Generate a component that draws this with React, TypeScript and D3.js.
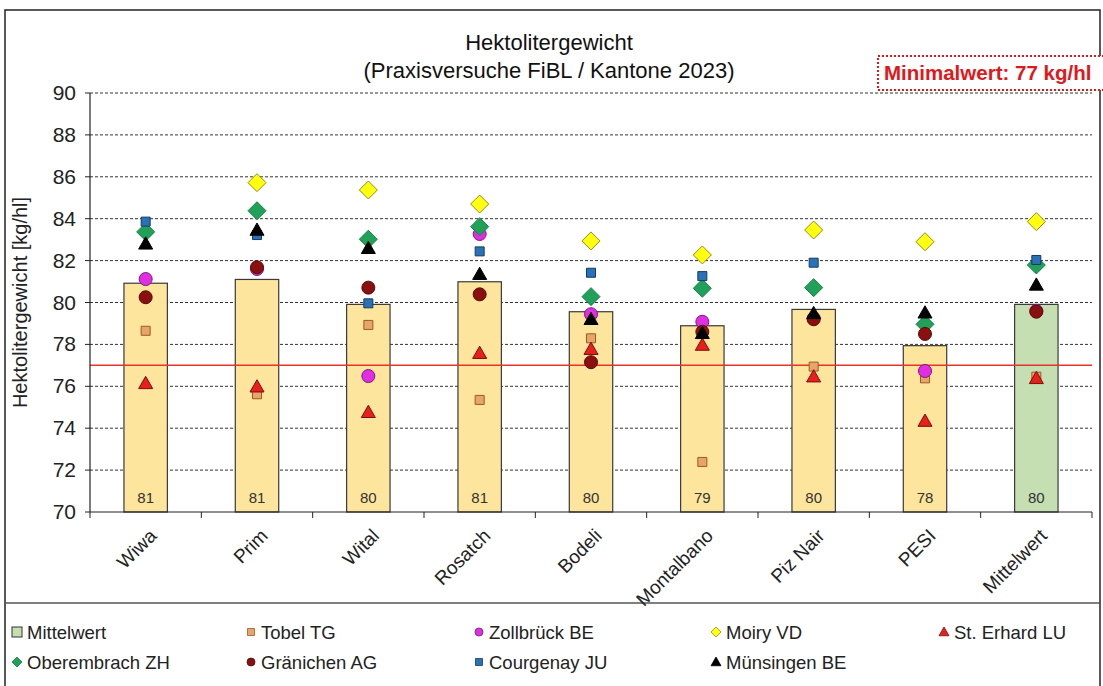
import React from 'react';
import * as d3 from 'd3';

const W = 1103;
const H = 686;

const categories = ['Wiwa', 'Prim', 'Wital', 'Rosatch', 'Bodeli', 'Montalbano', 'Piz Nair', 'PESI', 'Mittelwert'];

// bar = Mittelwert per Sorte
const mittelwert = [80.92, 81.1, 79.91, 80.99, 79.56, 78.89, 79.67, 77.94, 79.91];
const tobelTG = [78.65, 75.62, 78.93, 75.35, 78.29, 72.39, 76.94, 76.38, 76.46];
const zollbrueckBE = [81.12, 81.6, 76.49, 83.27, 79.44, 79.08, 79.25, 76.73, 79.6];
const moiryVD = [null, 85.72, 85.37, 84.7, 82.94, 82.27, 83.46, 82.9, 83.86];
const stErhardLU = [76.14, 75.98, 74.76, 77.58, 77.77, 77.97, 76.46, 74.34, 76.38];
const oberembrachZH = [83.37, 84.38, 83.02, 83.62, 80.28, 80.68, 80.71, 78.96, 81.79];
const graenichenAG = [80.25, 81.68, 80.71, 80.39, 77.15, 78.6, 79.2, 78.5, 79.56];
const courgenayJU = [83.86, 83.22, 79.96, 82.44, 81.42, 81.26, 81.9, null, 82.03];
const muensingenBE = [82.8, 83.46, 82.59, 81.35, 79.2, 78.53, 79.48, 79.51, 80.84];

const yTicks = [70, 72, 74, 76, 78, 80, 82, 84, 86, 88, 90];
const minimalwert = 77;

type Shape = 'square' | 'circle' | 'diamond' | 'triangle';
const series: { name: string; values: (number | null)[]; shape: Shape; fill: string; stroke: string; size: number }[] = [
  { name: 'Tobel TG', values: tobelTG, shape: 'square', fill: '#e9a468', stroke: '#9a5a2a', size: 9 },
  { name: 'Zollbrück BE', values: zollbrueckBE, shape: 'circle', fill: '#e22ee2', stroke: '#7a1a7a', size: 13 },
  { name: 'Moiry VD', values: moiryVD, shape: 'diamond', fill: '#ffff10', stroke: '#9a8a10', size: 18 },
  { name: 'St. Erhard LU', values: stErhardLU, shape: 'triangle', fill: '#e8201c', stroke: '#7a0d0d', size: 14 },
  { name: 'Oberembrach ZH', values: oberembrachZH, shape: 'diamond', fill: '#21a05a', stroke: '#18804a', size: 18 },
  { name: 'Gränichen AG', values: graenichenAG, shape: 'circle', fill: '#8a1010', stroke: '#5a0a0a', size: 13 },
  { name: 'Courgenay JU', values: courgenayJU, shape: 'square', fill: '#2a72b8', stroke: '#173a60', size: 9 },
  { name: 'Münsingen BE', values: muensingenBE, shape: 'triangle', fill: '#000000', stroke: '#000000', size: 14 },
];

const legendOrder = [
  'Mittelwert', 'Tobel TG', 'Zollbrück BE', 'Moiry VD', 'St. Erhard LU',
  'Oberembrach ZH', 'Gränichen AG', 'Courgenay JU', 'Münsingen BE',
];

const FONT = '"Liberation Sans", Arial, sans-serif';

function marker(shape: Shape, s: number) {
  const h = s / 2;
  if (shape === 'square') return `M${-h},${-h}H${h}V${h}H${-h}Z`;
  if (shape === 'diamond') return `M0,${-h}L${h},0L0,${h}L${-h},0Z`;
  if (shape === 'triangle') return `M0,${-h}L${h},${h * 0.75}L${-h},${h * 0.75}Z`;
  return `M${h},0A${h},${h} 0 1,1 ${-h},0A${h},${h} 0 1,1 ${h},0Z`;
}

export default function App() {
  const left = 90;
  const right = 1092;
  const top = 93;
  const bottom = 512;

  const x = d3.scaleBand<string>().domain(categories).range([left, right]).paddingInner(0.61).paddingOuter(0.305);
  const y = d3.scaleLinear().domain([70, 90]).range([bottom, top]);
  const bw = x.bandwidth();
  const gap = x.step() * x.paddingInner() / 2;

  const legendCols = [12, 246, 474, 711, 939];
  const legendRows = [632, 662];

  return (
    <svg width={W} height={H} style={{ position: 'absolute', left: 0, top: 0, background: '#fff' }} fontFamily={FONT}>
      <rect x={0} y={0} width={W} height={H} fill="#fff" />
      {/* frame */}
      <rect x={5} y={10} width={1095} height={700} fill="none" stroke="#222" strokeWidth={1.5} />
      <line x1={5} x2={1100} y1={603} y2={603} stroke="#555" strokeWidth={1.5} />

      {/* title */}
      <text x={549} y={50} textAnchor="middle" fontSize={22} fill="#111">Hektolitergewicht</text>
      <text x={549} y={78} textAnchor="middle" fontSize={22} fill="#111">(Praxisversuche FiBL / Kantone 2023)</text>

      {/* gridlines */}
      {yTicks.filter(t => t > 70).map(t => (
        <line key={t} x1={left} x2={right} y1={y(t)} y2={y(t)} stroke="#333" strokeWidth={1} strokeDasharray="3,2" />
      ))}

      {/* bars */}
      {categories.map((c, i) => (
        <rect key={c} x={x(c)!} y={y(mittelwert[i])} width={bw} height={bottom - y(mittelwert[i])}
          fill={c === 'Mittelwert' ? '#c5dfb3' : '#fde59d'} stroke="#3a3a3a" strokeWidth={1.2} />
      ))}

      {/* bar labels */}
      {categories.map((c, i) => (
        <text key={c} x={x(c)! + bw / 2} y={503} textAnchor="middle" fontSize={15} fill="#333">
          {d3.format('.0f')(mittelwert[i])}
        </text>
      ))}

      {/* Minimalwert line */}
      <line x1={left} x2={right} y1={y(minimalwert)} y2={y(minimalwert)} stroke="#e8322c" strokeWidth={1.5} />

      {/* axes */}
      <line x1={left} x2={left} y1={top} y2={bottom} stroke="#222" strokeWidth={1.2} />
      <line x1={left} x2={right} y1={bottom} y2={bottom} stroke="#222" strokeWidth={1.2} />
      {yTicks.map(t => (
        <g key={t}>
          <line x1={left - 5} x2={left} y1={y(t)} y2={y(t)} stroke="#222" />
          <text x={left - 14} y={y(t) + 7} textAnchor="end" fontSize={21} fill="#222">{t}</text>
        </g>
      ))}
      {categories.map(c => (
        <line key={c} x1={x(c)! - gap} x2={x(c)! - gap} y1={bottom} y2={bottom + 6} stroke="#222" />
      ))}
      <line x1={right} x2={right} y1={bottom} y2={bottom + 6} stroke="#222" />

      {categories.map(c => {
        const cx = x(c)! + bw / 2 + 12;
        return (
          <text key={c} transform={`translate(${cx},${537}) rotate(-45)`} textAnchor="end" fontSize={19} fill="#222">{c}</text>
        );
      })}

      <text transform={`translate(27,${y(80)}) rotate(-90)`} textAnchor="middle" fontSize={20} fill="#222">
        Hektolitergewicht [kg/hl]
      </text>

      {/* markers */}
      {series.map(s => (
        <g key={s.name}>
          {s.values.map((v, i) => v == null ? null : (
            <path key={i} d={marker(s.shape, s.size)}
              transform={`translate(${x(categories[i])! + bw / 2},${y(v)})`}
              fill={s.fill} stroke={s.stroke} strokeWidth={1} />
          ))}
        </g>
      ))}

      {/* Minimalwert box */}
      <rect x={878} y={56} width={240} height={34} fill="#fff" stroke="#e0181c" strokeWidth={2} strokeDasharray="2,2" />
      <text x={884} y={80} fontSize={20.5} fontWeight="bold" fill="#e0181c">Minimalwert: {minimalwert} kg/hl</text>

      {/* legend */}
      {legendOrder.map((name, k) => {
        const col = legendCols[k < 5 ? k : k - 5];
        const row = legendRows[k < 5 ? 0 : 1];
        const s = series.find(d => d.name === name);
        return (
          <g key={name} transform={`translate(${col},${row})`}>
            {s ? (
              <path d={marker(s.shape, s.shape === 'circle' ? 8 : s.shape === 'square' ? 7 : 10)} transform="translate(5,0)"
                fill={s.fill} stroke={s.stroke} strokeWidth={0.8} />
            ) : (
              <rect x={0} y={-5} width={10} height={10} fill="#c5dfb3" stroke="#333" strokeWidth={1} />
            )}
            <text x={15} y={6.5} fontSize={18.5} fill="#222">{name}</text>
          </g>
        );
      })}
    </svg>
  );
}
